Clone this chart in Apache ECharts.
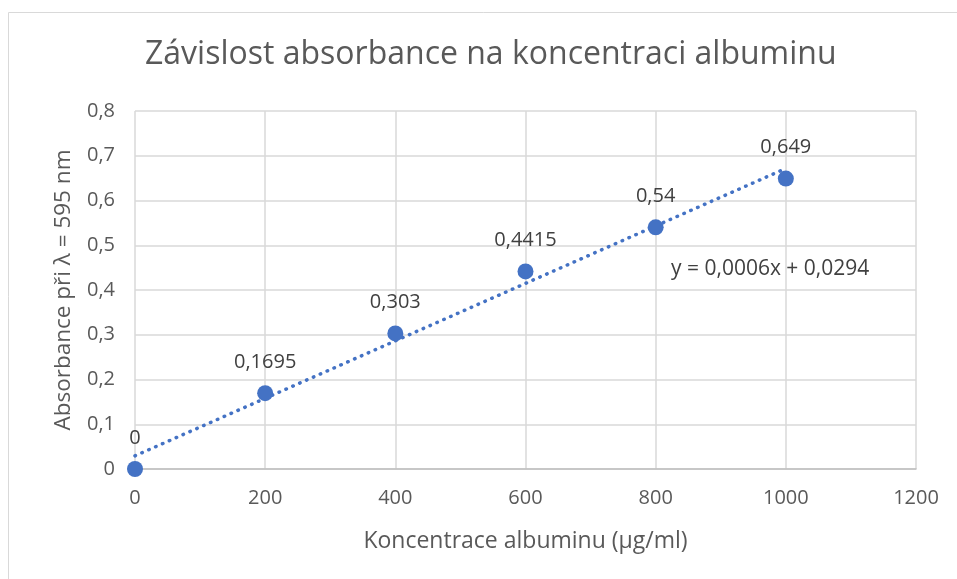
<!DOCTYPE html>
<html>
<head>
<meta charset="utf-8">
<script src="https://cdn.jsdelivr.net/npm/echarts@6/dist/echarts.min.js"></script>
<style>
  html, body { margin: 0; padding: 0; background: #fff; }
  #chart { width: 957px; height: 579px; }
</style>
</head>
<body>
<div id="chart"></div>
<script>
// data
const koncentrace = [0, 200, 400, 600, 800, 1000];
const absorbance = [0, 0.1695, 0.303, 0.4415, 0.54, 0.649];
const rovnice = 'y = 0,0006x + 0,0294';

// linear trendline (least squares) through the points
function trend(xs, ys) {
    let n = xs.length, mx = 0, my = 0;
    for (let i = 0; i < n; i++) { mx += xs[i]; my += ys[i]; }
    mx /= n; my /= n;
    let sxy = 0, sxx = 0;
    for (let i = 0; i < n; i++) {
        sxy += (xs[i] - mx) * (ys[i] - my);
        sxx += (xs[i] - mx) * (xs[i] - mx);
    }
    const k = sxy / sxx;
    const q = my - k * mx;
    const x0 = xs[0], x1 = xs[n - 1];
    return [[x0, k * x0 + q], [x1, k * x1 + q]];
}

const FONT = '"Open Sans", sans-serif';
const TXT = '#595959';
const BLUE = '#4472C4';
const fmt = v => String(v).replace('.', ',');

const chart = echarts.init(document.getElementById('chart'));
chart.setOption({
    animation: false,
    textStyle: { fontFamily: FONT },
    title: {
        text: 'Závislost absorbance na koncentraci albuminu',
        left: 140,
        top: 34,
        textStyle: { fontFamily: FONT, fontSize: 32, fontWeight: 'normal', color: TXT }
    },
    grid: { left: 135, right: 41, top: 111, bottom: 110 },
    xAxis: {
        type: 'value',
        min: 0, max: 1200, interval: 200,
        name: 'Koncentrace albuminu (µg/ml)',
        nameLocation: 'middle',
        nameGap: 61,
        nameTextStyle: { fontFamily: FONT, fontSize: 23, color: TXT },
        axisLine: { show: true, lineStyle: { color: '#BFBFBF', width: 1.5 } },
        axisTick: { show: false },
        axisLabel: { fontFamily: FONT, fontSize: 20, color: TXT, margin: 19, formatter: v => String(v) },
        splitLine: { show: true, lineStyle: { color: '#D9D9D9', width: 1.5 } }
    },
    yAxis: {
        type: 'value',
        min: 0, max: 0.8, interval: 0.1,
        name: 'Absorbance při λ = 595 nm',
        nameLocation: 'middle',
        nameGap: 60,
        nameTextStyle: { fontFamily: FONT, fontSize: 22.5, color: TXT },
        axisLine: { show: false },
        axisTick: { show: false },
        axisLabel: { fontFamily: FONT, fontSize: 20, color: TXT, margin: 20, formatter: v => fmt(Math.round(v * 10) / 10) },
        splitLine: { show: true, lineStyle: { color: '#D9D9D9', width: 1.5 } }
    },
    series: [
        {
            name: 'trend',
            type: 'line',
            data: trend(koncentrace, absorbance),
            symbol: 'none',
            silent: true,
            z: 3,
            lineStyle: { color: BLUE, width: 3.5, type: [0.5, 7], cap: 'round' }
        },
        {
            name: 'absorbance',
            type: 'scatter',
            data: koncentrace.map((x, i) => [x, absorbance[i]]),
            symbol: 'circle',
            symbolSize: 16,
            z: 4,
            itemStyle: { color: BLUE, opacity: 1 },
            label: {
                show: true,
                position: 'top',
                distance: 13,
                fontFamily: FONT,
                fontSize: 20,
                color: '#404040',
                formatter: p => fmt(p.value[1])
            }
        }
    ],
    graphic: [
        {
            type: 'rect',
            shape: { x: 8.5, y: 12.5, width: 1000, height: 1000 },
            style: { fill: 'none', stroke: '#D9D9D9', lineWidth: 1 },
            silent: true
        },
        {
            type: 'text',
            left: 671,
            top: 259,
            style: { text: rovnice, fontFamily: FONT, fontSize: 21, fill: '#404040' }
        }
    ]
});
</script>
</body>
</html>
